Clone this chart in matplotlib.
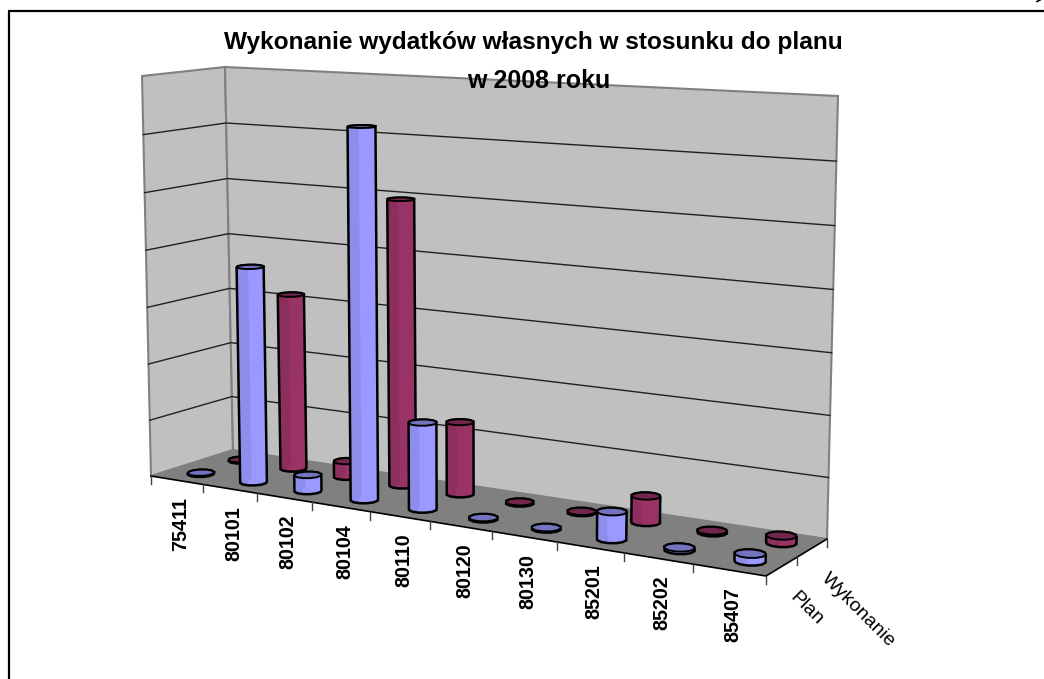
import numpy as np
import matplotlib
matplotlib.use("Agg")
import matplotlib.pyplot as plt
from matplotlib.patches import Polygon

plt.rcParams['font.family'] = ['Liberation Sans', 'DejaVu Sans']

# 1. Data
categories = ["75411", "80101", "80102", "80104", "80110",
              "80120", "80130", "85201", "85202", "85407"]
series_names = ["Plan", "Wykonanie"]
plan = [0.02, 3.78, 0.28, 6.3, 1.47, 0.02, 0.02, 0.45, 0.04, 0.12]
wykonanie = [0.02, 3.13, 0.28, 4.97, 1.25, 0.02, 0.02, 0.44, 0.03, 0.12]
z_max = 7
z_gridlines = [1, 2, 3, 4, 5, 6]

title_lines = ["Wykonanie wydatków własnych w stosunku do planu", "w 2008 roku"]

# 2. Chart box corners in pixels: front-left, front-right, back-right, back-left
floor_px = [(151, 476), (766, 576), (827, 539), (233, 450)]
# top corners that are visible: front-left, back-right, back-left
roof_px = [(142, 76), (838, 96), (225, 67)]

PLAN_COL = "#9999FF"
WYK_COL = "#993366"
WALL_COL = "#C0C0C0"
FLOOR_COL = "#808080"
RADIUS = 0.2
BAR_SHIFT = 0.06

nx, ny = len(categories), len(series_names)


def camera():
    # floor homography first, then solve the z column from the top corners
    src = [(0, 0), (nx, 0), (nx, ny), (0, ny)]
    a, b = [], []
    for (x, y), (u, v) in zip(src, floor_px):
        a.append([x, y, 1, 0, 0, 0, -u * x, -u * y])
        a.append([0, 0, 0, x, y, 1, -v * x, -v * y])
        b += [u, v]
    h = np.append(np.linalg.solve(np.array(a, float), np.array(b, float)), 1).reshape(3, 3)
    a, b = [], []
    for (x, y), (u, v) in zip([(0, 0), (nx, ny), (0, ny)], roof_px):
        r = h @ np.array([x, y, 1.0])
        a.append([z_max, 0, -u * z_max])
        a.append([0, z_max, -v * z_max])
        b += [u * r[2] - r[0], v * r[2] - r[1]]
    c = np.linalg.lstsq(np.array(a, float), np.array(b, float), rcond=None)[0]
    return np.column_stack([h[:, 0], h[:, 1], c, h[:, 2]])


P = camera()


def raw_project(x, y, z):
    p = P @ np.array([x, y, z, 1.0])
    return p[:2] / p[2]


# what the camera misses at the top corners, spread over the height
r_fl = np.array(roof_px[0]) - raw_project(0, 0, z_max)
r_br = np.array(roof_px[1]) - raw_project(nx, ny, z_max)
r_bl = np.array(roof_px[2]) - raw_project(0, ny, z_max)


def project(x, y, z):
    fix = r_fl + (x / nx) * (r_br - r_bl) + (y / ny) * (r_bl - r_fl)
    return raw_project(x, y, z) + fix * z / z_max


def hull(points):
    pts = sorted(map(tuple, points))
    def half(seq):
        out = []
        for p in seq:
            while len(out) > 1 and ((out[-1][0] - out[-2][0]) * (p[1] - out[-2][1])
                                    - (out[-1][1] - out[-2][1]) * (p[0] - out[-2][0])) <= 0:
                out.pop()
            out.append(p)
        return out[:-1]
    return half(pts) + half(pts[::-1])


def shade(col, f):
    rgb = np.array(matplotlib.colors.to_rgb(col)) * f
    return tuple(np.clip(rgb, 0, 1))


def cylinder(ax, i, s, value, col):
    cx, cy = i + 0.5 + BAR_SHIFT, s + 0.5
    ang = np.linspace(0, 2 * np.pi, 13)[:-1] + np.pi / 12
    bottom = [project(cx + RADIUS * np.cos(a), cy + RADIUS * np.sin(a), 0) for a in ang]
    top = [project(cx + RADIUS * np.cos(a), cy + RADIUS * np.sin(a), value) for a in ang]
    # side facets, darker on the left
    order = np.argsort([(bottom[k][0]) for k in range(12)])
    xs = [p[0] for p in bottom]
    for k in order:
        k2 = (k + 1) % 12
        mid_x = (bottom[k][0] + bottom[k2][0]) / 2
        pos = (mid_x - min(xs)) / (max(xs) - min(xs))
        f = 0.92 if pos < 0.35 else 1.0
        ax.add_patch(Polygon([bottom[k], bottom[k2], top[k2], top[k]], closed=True,
                             fc=shade(col, f), ec=shade(col, f), lw=0.3, zorder=5 - s))
    ax.add_patch(Polygon(hull(bottom + top), closed=True, fc="none", ec="black",
                         lw=1.8, zorder=5 - s))
    ax.add_patch(Polygon(top, closed=True, fc=shade(col, 0.75), ec="black",
                         lw=1.4, zorder=5 - s))


# 3. Draw
fig = plt.figure(figsize=(10.44, 6.79), dpi=100)
ax = fig.add_axes([0, 0, 1, 1])
ax.set_xlim(0, 1044)
ax.set_ylim(679, 0)
ax.axis("off")

# page frame
ax.plot([8, 1044], [11, 11], color="black", lw=1.6, solid_capstyle="butt")
ax.plot([9, 9], [11, 679], color="black", lw=1.6, solid_capstyle="butt")
ax.plot([1037, 1040], [1.5, 0], color="black", lw=1.2)

# walls and floor
left_wall = [project(0, 0, 0), project(0, ny, 0), project(0, ny, z_max), project(0, 0, z_max)]
back_wall = [project(0, ny, 0), project(nx, ny, 0), project(nx, ny, z_max), project(0, ny, z_max)]
floor = [project(0, 0, 0), project(nx, 0, 0), project(nx, ny, 0), project(0, ny, 0)]
for wall in (left_wall, back_wall):
    ax.add_patch(Polygon(wall, closed=True, fc=WALL_COL, ec="#808080", lw=1.5, zorder=1))
ax.add_patch(Polygon(floor, closed=True, fc=FLOOR_COL, ec="none", zorder=2))

# gridlines
for z in z_gridlines:
    pts = np.array([project(0, 0, z), project(0, ny, z), project(nx, ny, z)])
    ax.plot(pts[:, 0], pts[:, 1], color="#202020", lw=1.0, zorder=3)

# axis edges and ticks
edge = np.array([project(0, 0, 0), project(nx, 0, 0), project(nx, ny, 0)])
ax.plot(edge[:, 0], edge[:, 1], color="black", lw=1.2, zorder=4)
for i in range(nx + 1):
    p = project(i, 0, 0)
    ax.plot([p[0], p[0]], [p[1], p[1] + 8], color="#404040", lw=1.0, zorder=4)
for s in range(1, ny + 1):
    p = project(nx, s, 0)
    ax.plot([p[0], p[0]], [p[1], p[1] + 8], color="#404040", lw=1.0, zorder=4)

# bars, back row first
for s, (values, col) in reversed(list(enumerate(zip((plan, wykonanie), (PLAN_COL, WYK_COL))))):
    for i, v in enumerate(values):
        cylinder(ax, i, s, v, col)

# labels
for i, name in enumerate(categories):
    p = project(i + 0.5, 0, 0)
    ax.text(p[0] + 4, p[1] + 17, name, rotation=90, ha="center", va="top",
            fontsize=14.2, fontweight="bold", color="black", zorder=6)
for s, name in enumerate(series_names):
    p = project(nx, s + 0.5, 0)
    ax.text(p[0] + 17, p[1] + 22, name, rotation=-45, rotation_mode="anchor", ha="left", va="top",
            fontsize=14, color="black", zorder=6)

ax.text(533, 43, title_lines[0], ha="center", va="center", fontsize=17.6,
        fontweight="bold", zorder=7)
ax.text(539, 81, title_lines[1], ha="center", va="center", fontsize=18,
        fontweight="bold", zorder=7)

fig.savefig("out.png", dpi=100)
plt.close(fig)
